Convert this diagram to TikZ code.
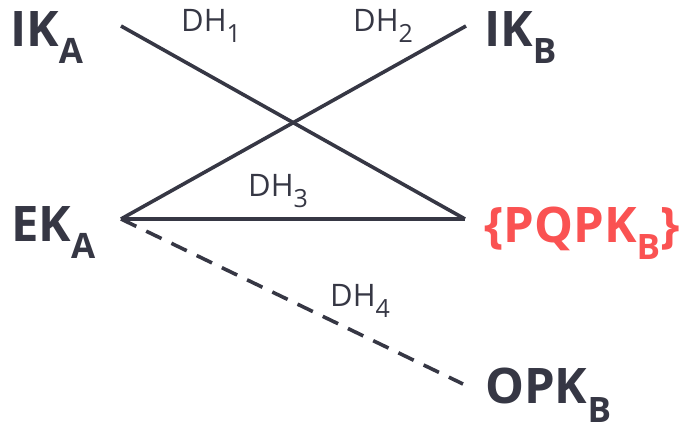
\documentclass[tikz,border=0pt]{standalone}
\usepackage{fontspec}
\setmainfont{Open Sans}
\definecolor{ink}{HTML}{363744}
\definecolor{alert}{HTML}{FA5252}
% lowered subscripts for key names and DH labels
\newcommand{\keysub}[2][17pt]{\raisebox{-#1}{\fontsize{35}{35}\selectfont\bfseries #2}}
\newcommand{\dhsub}[1]{\raisebox{-11pt}{\fontsize{25}{25}\selectfont #1}}
\begin{document}
\begin{tikzpicture}[x=1pt,y=1pt,
  keylabel/.style={anchor=base west, inner sep=0pt, text=ink,
    font=\fontsize{49}{49}\selectfont\bfseries},
  dhlabel/.style={anchor=base west, inner sep=0pt, text=ink,
    font=\fontsize{31}{31}\selectfont},
  link/.style={draw=ink, line width=3.6pt},
  optlink/.style={link, dash pattern=on 17pt off 11pt}]
\useasboundingbox (0,0) rectangle (682,425);

% key labels
\node[keylabel] (ika) at (10,378) {IK\keysub{A}};
\node[keylabel] (ikb) at (484,378) {IK\keysub{B}};
\node[keylabel] (eka) at (11,183) {EK\keysub{A}};
\node[keylabel, text=alert] (pqpk) at (484,182) {\{PQPK\keysub{B}\}};
\node[keylabel] (opk) at (485,21) {OPK\keysub[19pt]{B}};

% connector end points
\coordinate (pIKA) at (121,399);
\coordinate (pIKB) at (466,399);
\coordinate (pEKA) at (121,206);
\coordinate (pPQ)  at (465,206);
\coordinate (pOPK) at (463,41);

% DH computations
\draw[link] (pIKA) -- (pPQ);
\draw[link] (pIKB) -- (pEKA);
\draw[link] (pEKA) -- (pPQ);
\draw[optlink] (pEKA) -- (pOPK);

% DH labels
\node[dhlabel] (dh1) at (181,393) {DH\dhsub{1}};
\node[dhlabel] (dh2) at (353,393) {DH\dhsub{2}};
\node[dhlabel] (dh3) at (248,228) {DH\dhsub{3}};
\node[dhlabel] (dh4) at (330,118) {DH\dhsub{4}};
\end{tikzpicture}
\end{document}
